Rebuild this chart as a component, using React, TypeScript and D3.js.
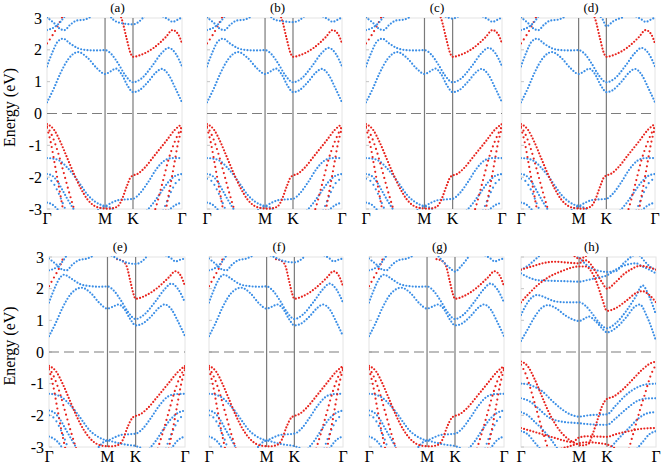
import React from 'react';
import * as d3 from 'd3';

type Pt = [number, number];
type Band = [string, Pt[]];

// high-symmetry points (fractional path coordinate)
const kLabels: [number, string][] = [[0, 'Γ'], [0.43, 'M'], [0.637, 'K'], [1, 'Γ']];
const eTicks = [3, 2, 1, 0, -1, -2, -3];
const panelNames = ['(a)', '(b)', '(c)', '(d)', '(e)', '(f)', '(g)', '(h)'];

// ---------- top row (a-d) shared bands ----------
const topCB1: Pt[] = [[0,0.35],[0.05,0.78],[0.1,1.27],[0.16,1.72],[0.23,1.93],[0.3,1.75],[0.37,1.42],[0.43,1.24],[0.47,1.32],[0.51,1.41],[0.55,1.25],[0.6,0.85],[0.637,0.67],[0.68,0.72],[0.75,1.0],[0.81,1.3],[0.85,1.4],[0.9,1.22],[0.95,0.8],[1,0.35]];
const topCB2: Pt[] = [[0,1.48],[0.04,1.92],[0.08,2.26],[0.12,2.35],[0.17,2.2],[0.23,2.05],[0.3,1.99],[0.37,1.98],[0.43,1.99],[0.48,1.85],[0.53,1.55],[0.58,1.2],[0.637,0.98],[0.7,1.1],[0.78,1.5],[0.85,1.9],[0.9,2.06],[0.95,1.9],[1,1.48]];
const topCBr1: Pt[] = [[0,2.2],[0.04,2.45],[0.08,2.75],[0.115,3.05]];
const topCBr2: Pt[] = [[0.53,3.2],[0.555,2.95],[0.59,2.35],[0.62,1.88],[0.637,1.78],[0.7,1.85],[0.79,2.06],[0.88,2.4],[0.93,2.62],[0.97,2.5],[1,2.2]];
const topCBt1: Pt[] = [[0,3.02],[0.05,2.85],[0.1,2.65],[0.13,2.62],[0.17,2.78],[0.22,2.92],[0.28,2.95],[0.33,3.05]];
const topCBt2: Pt[] = [[0,2.62],[0.05,2.7],[0.1,2.88],[0.13,3.05]];
const topCBt3: Pt[] = [[0.84,3.1],[0.9,2.95],[0.93,2.88],[0.97,2.95],[1,3.02]];
const kTopA: Pt[] = [[0.46,3.1],[0.49,2.95],[0.54,2.85],[0.637,2.8],[0.68,2.88],[0.71,3.0],[0.73,3.1]];
const kTopB: Pt[] = [[0.46,3.1],[0.5,2.95],[0.56,2.9],[0.637,2.87],[0.68,2.92],[0.72,3.05]];
const kTopC: Pt[] = [[0.5,3.2],[0.58,3.05],[0.637,2.98],[0.68,3.05],[0.74,3.2]];
const kTopD: Pt[] = [[0.58,3.1],[0.61,2.95],[0.637,2.74],[0.69,2.9],[0.76,3.02]];

const topVr1: Pt[] = [[0,-0.33],[0.05,-0.5],[0.1,-0.9],[0.15,-1.4],[0.2,-1.9],[0.25,-2.35],[0.3,-2.7],[0.35,-2.9],[0.4,-2.97],[0.46,-2.99],[0.52,-2.93],[0.55,-2.75],[0.59,-2.3],[0.62,-2.0],[0.637,-1.95],[0.67,-1.9],[0.72,-1.72],[0.8,-1.3],[0.88,-0.88],[0.95,-0.5],[1,-0.33]];
const topVr2: Pt[] = [[0,-0.4],[0.04,-0.72],[0.08,-1.2],[0.12,-1.8],[0.16,-2.42],[0.2,-3.0],[0.22,-3.3]];
const topVr3: Pt[] = [[0.78,-3.3],[0.82,-2.75],[0.86,-2.1],[0.9,-1.45],[0.95,-0.85],[1,-0.4]];
const topVr4: Pt[] = [[0,-0.45],[0.03,-0.95],[0.06,-1.65],[0.09,-2.35],[0.12,-3.05]];
const topVr5: Pt[] = [[0.88,-3.05],[0.91,-2.35],[0.94,-1.65],[0.97,-0.95],[1,-0.45]];
const topVb1: Pt[] = [[0,-1.4],[0.05,-1.42],[0.1,-1.5],[0.15,-1.7],[0.2,-1.95],[0.25,-2.25],[0.3,-2.55],[0.35,-2.75],[0.4,-2.87],[0.43,-2.9],[0.48,-2.8],[0.53,-2.72],[0.58,-2.7],[0.637,-2.68],[0.69,-2.5],[0.75,-2.15],[0.81,-1.75],[0.87,-1.48],[0.93,-1.4],[1,-1.4]];
const topVb2: Pt[] = [[0,-1.9],[0.04,-1.96],[0.08,-2.15],[0.12,-2.45],[0.16,-2.75],[0.2,-3.02]];
const topVb3: Pt[] = [[0.74,-3.05],[0.79,-2.8],[0.84,-2.5],[0.9,-2.15],[0.95,-1.96],[1,-1.9]];
const topVb4: Pt[] = [[0,-2.8],[0.04,-2.86],[0.08,-3.02]];
const topVb5: Pt[] = [[0.9,-3.05],[0.95,-2.88],[1,-2.8]];
const topVb6: Pt[] = [[0.36,-3.1],[0.43,-2.92],[0.5,-3.02]];
const topVb7: Pt[] = [[0,-2.05],[0.04,-2.15],[0.08,-2.45],[0.12,-2.85],[0.14,-3.05]];
const topVb8: Pt[] = [[0.86,-3.05],[0.88,-2.85],[0.92,-2.45],[0.96,-2.15],[1,-2.05]];

// ---------- bottom row (e-g) shared bands ----------
const botCB1: Pt[] = [[0,0.5],[0.05,0.92],[0.1,1.4],[0.16,1.83],[0.24,2.03],[0.31,1.85],[0.37,1.55],[0.43,1.37],[0.47,1.43],[0.51,1.5],[0.55,1.38],[0.6,1.02],[0.637,0.84],[0.68,0.88],[0.75,1.12],[0.81,1.4],[0.85,1.5],[0.9,1.35],[0.95,0.95],[1,0.5]];
const botCB2: Pt[] = [[0,1.56],[0.04,2.0],[0.08,2.34],[0.11,2.44],[0.17,2.3],[0.23,2.14],[0.3,2.08],[0.37,2.06],[0.43,2.07],[0.48,1.92],[0.53,1.62],[0.58,1.27],[0.637,1.04],[0.7,1.18],[0.78,1.58],[0.85,1.98],[0.9,2.16],[0.95,1.98],[1,1.56]];
const botCBr1: Pt[] = [[0,2.08],[0.04,2.38],[0.08,2.7],[0.11,3.05]];
const botCBr2: Pt[] = [[0.5,2.93],[0.54,2.88],[0.57,2.72],[0.6,2.2],[0.62,1.85],[0.637,1.68],[0.7,1.76],[0.79,2.0],[0.88,2.35],[0.93,2.55],[0.97,2.4],[1,2.08]];
const botCBt1: Pt[] = [[0,2.95],[0.05,2.78],[0.1,2.6],[0.13,2.58],[0.17,2.75],[0.22,2.9],[0.28,2.95],[0.33,3.05]];
const botCBt2: Pt[] = [[0,2.58],[0.05,2.66],[0.1,2.86],[0.13,3.05]];
const botCBt3: Pt[] = [[0.84,3.1],[0.9,2.95],[0.93,2.86],[0.97,2.92],[1,2.95]];
const kTopE: Pt[] = [[0.46,3.05],[0.5,2.95],[0.55,2.85],[0.637,2.78],[0.68,2.85],[0.72,3.02]];
const kTopF: Pt[] = [[0.46,3.05],[0.5,2.97],[0.55,2.88],[0.637,2.83],[0.68,2.9],[0.72,3.04]];
const kTopG: Pt[] = [[0.5,3.1],[0.55,2.85],[0.6,2.65],[0.637,2.54],[0.68,2.7],[0.74,3.02]];

const botVr1: Pt[] = [[0,-0.44],[0.05,-0.6],[0.1,-1.0],[0.15,-1.5],[0.2,-2.0],[0.25,-2.42],[0.3,-2.72],[0.35,-2.9],[0.39,-2.96],[0.45,-2.98],[0.5,-2.95],[0.54,-2.8],[0.58,-2.35],[0.615,-2.07],[0.637,-2.02],[0.67,-1.97],[0.72,-1.8],[0.8,-1.4],[0.88,-0.98],[0.95,-0.62],[1,-0.44]];
const botVr2: Pt[] = [[0,-0.5],[0.04,-0.82],[0.08,-1.3],[0.12,-1.9],[0.16,-2.5],[0.2,-3.05]];
const botVr3: Pt[] = [[0.8,-3.05],[0.84,-2.5],[0.88,-1.9],[0.92,-1.3],[0.96,-0.82],[1,-0.5]];
const botVr4: Pt[] = [[0,-0.55],[0.03,-1.05],[0.06,-1.75],[0.09,-2.45],[0.12,-3.05]];
const botVr5: Pt[] = [[0.88,-3.05],[0.91,-2.45],[0.94,-1.75],[0.97,-1.05],[1,-0.55]];
const botVb1: Pt[] = [[0,-1.32],[0.05,-1.35],[0.1,-1.45],[0.15,-1.65],[0.2,-1.9],[0.25,-2.2],[0.3,-2.48],[0.35,-2.65],[0.4,-2.76],[0.43,-2.79],[0.48,-2.7],[0.53,-2.62],[0.58,-2.6],[0.637,-2.58],[0.69,-2.42],[0.75,-2.08],[0.81,-1.7],[0.87,-1.42],[0.93,-1.33],[1,-1.32]];
const botVb2: Pt[] = [[0,-1.85],[0.04,-1.92],[0.08,-2.12],[0.12,-2.42],[0.16,-2.72],[0.2,-3.02]];
const botVb3: Pt[] = [[0.74,-3.05],[0.79,-2.78],[0.84,-2.45],[0.9,-2.1],[0.95,-1.92],[1,-1.85]];
const botVb4: Pt[] = [[0,-2.67],[0.04,-2.75],[0.08,-2.92],[0.1,-3.05]];
const botVb5: Pt[] = [[0.9,-3.05],[0.95,-2.78],[1,-2.67]];
const botVb6: Pt[] = [[0.35,-3.08],[0.43,-2.8],[0.5,-2.87],[0.57,-2.93],[0.637,-2.97],[0.7,-3.08]];
const botVb7: Pt[] = [[0,-2.0],[0.04,-2.1],[0.08,-2.4],[0.12,-2.8],[0.14,-3.05]];
const botVb8: Pt[] = [[0.86,-3.05],[0.88,-2.8],[0.92,-2.4],[0.96,-2.1],[1,-2.0]];

// ---------- panel (h) ----------
const hCB1: Pt[] = [[0,0.35],[0.05,0.72],[0.1,1.1],[0.15,1.38],[0.2,1.48],[0.26,1.38],[0.33,1.15],[0.43,0.98],[0.47,1.05],[0.5,1.12],[0.55,0.98],[0.6,0.75],[0.637,0.62],[0.7,0.75],[0.78,1.1],[0.84,1.42],[0.88,1.5],[0.93,1.15],[1,0.35]];
const hCB2: Pt[] = [[0,1.17],[0.04,1.5],[0.08,1.72],[0.12,1.8],[0.18,1.72],[0.25,1.6],[0.33,1.57],[0.43,1.57],[0.48,1.45],[0.53,1.2],[0.58,0.92],[0.637,0.75],[0.7,0.9],[0.78,1.3],[0.85,1.75],[0.9,2.1],[0.95,1.75],[1,1.17]];
const hCB3: Pt[] = [[0,2.48],[0.06,2.35],[0.12,2.27],[0.2,2.25],[0.3,2.24],[0.43,2.22],[0.5,2.28],[0.57,2.35],[0.637,2.42],[0.7,2.6],[0.78,2.75],[0.85,2.8],[0.9,2.7],[0.95,2.6],[1,2.48]];
const hCB4: Pt[] = [[0,2.6],[0.05,2.72],[0.1,2.9],[0.14,3.05]];
const hCB5: Pt[] = [[0.42,3.05],[0.46,2.85],[0.52,2.65],[0.58,2.56],[0.637,2.53],[0.7,2.55],[0.76,2.8],[0.8,2.95],[0.83,3.05]];
const hCB6: Pt[] = [[0.88,3.05],[0.93,2.8],[0.97,2.65],[1,2.6]];
const hCBr1: Pt[] = [[0,1.57],[0.06,1.85],[0.12,2.1],[0.2,2.35],[0.3,2.55],[0.43,2.7],[0.48,2.7],[0.52,2.55],[0.56,2.2],[0.6,1.7],[0.637,1.3],[0.7,1.38],[0.78,1.62],[0.86,1.88],[0.9,1.92],[0.95,1.8],[1,1.57]];
const hCBr2: Pt[] = [[0,2.6],[0.08,2.7],[0.16,2.8],[0.25,2.85],[0.35,2.82],[0.43,2.8],[0.47,2.9],[0.5,2.85],[0.55,2.55],[0.6,2.2],[0.637,2.0],[0.7,2.2],[0.76,2.45],[0.82,2.62],[0.88,2.72],[0.94,2.68],[1,2.6]];
const hCBr3: Pt[] = [[0.38,3.1],[0.43,2.95],[0.47,3.0],[0.5,3.1]];
const hVr1: Pt[] = [[0,-0.3],[0.05,-0.45],[0.1,-0.85],[0.15,-1.35],[0.2,-1.85],[0.25,-2.25],[0.3,-2.55],[0.35,-2.75],[0.4,-2.88],[0.45,-2.95],[0.5,-2.9],[0.53,-2.6],[0.57,-2.1],[0.6,-1.72],[0.637,-1.48],[0.68,-1.42],[0.75,-1.2],[0.82,-0.9],[0.9,-0.55],[0.95,-0.38],[1,-0.3]];
const hVr2: Pt[] = [[0,-0.4],[0.04,-0.75],[0.08,-1.3],[0.12,-1.9],[0.16,-2.5],[0.2,-3.05]];
const hVr3: Pt[] = [[0.8,-3.05],[0.84,-2.45],[0.88,-1.85],[0.92,-1.3],[0.96,-0.75],[1,-0.4]];
const hVr4: Pt[] = [[0,-2.4],[0.08,-2.5],[0.16,-2.6],[0.24,-2.7],[0.32,-2.8],[0.38,-2.85],[0.43,-2.7],[0.5,-2.66],[0.637,-2.68],[0.7,-2.6],[0.8,-2.5],[0.9,-2.42],[1,-2.4]];
const hVr5: Pt[] = [[0.3,-3.05],[0.38,-2.95],[0.43,-2.88],[0.5,-2.85],[0.58,-2.88],[0.637,-2.92],[0.7,-3.05]];
const hVb1: Pt[] = [[0,-1.0],[0.05,-1.02],[0.1,-1.1],[0.16,-1.25],[0.22,-1.5],[0.3,-1.8],[0.37,-1.98],[0.43,-2.04],[0.5,-2.0],[0.57,-1.98],[0.637,-1.97],[0.7,-1.7],[0.78,-1.35],[0.86,-1.12],[0.93,-1.02],[1,-1.0]];
const hVb2: Pt[] = [[0,-1.46],[0.06,-1.55],[0.12,-1.75],[0.2,-2.05],[0.3,-2.2],[0.43,-2.25],[0.5,-2.28],[0.637,-2.3],[0.7,-2.1],[0.78,-1.8],[0.86,-1.55],[0.93,-1.47],[1,-1.46]];
const hVb3: Pt[] = [[0,-1.9],[0.05,-2.0],[0.1,-2.2],[0.16,-2.45],[0.22,-2.75],[0.27,-3.05]];
const hVb4: Pt[] = [[0.66,-3.05],[0.72,-2.75],[0.8,-2.4],[0.87,-2.1],[0.94,-1.93],[1,-1.9]];
const hVb5: Pt[] = [[0,-2.5],[0.05,-2.6],[0.1,-2.85],[0.14,-3.05]];
const hVb6: Pt[] = [[0.86,-3.05],[0.9,-2.85],[0.95,-2.6],[1,-2.5]];

// band colour: 'b' blue, 'r' red; 's' suffix = steep band (sparser dots)
const topBase: Band[] = [
  ['b', topCB1], ['b', topCB2], ['rs', topCBr1], ['r', topCBr2], ['b', topCBt1], ['b', topCBt2], ['b', topCBt3],
  ['b', topVb1], ['b', topVb2], ['b', topVb3], ['b', topVb4], ['b', topVb5], ['b', topVb6], ['bs', topVb7], ['bs', topVb8],
  ['r', topVr1], ['rs', topVr2], ['rs', topVr3], ['rs', topVr4], ['rs', topVr5],
];
const botBase: Band[] = [
  ['b', botCB1], ['b', botCB2], ['rs', botCBr1], ['r', botCBr2], ['b', botCBt1], ['b', botCBt2], ['b', botCBt3],
  ['b', botVb1], ['b', botVb2], ['b', botVb3], ['b', botVb4], ['b', botVb5], ['b', botVb6], ['bs', botVb7], ['bs', botVb8],
  ['r', botVr1], ['rs', botVr2], ['rs', botVr3], ['rs', botVr4], ['rs', botVr5],
];
const hBands: Band[] = [
  ['b', hCB1], ['b', hCB2], ['b', hCB3], ['b', hCB4], ['b', hCB5], ['b', hCB6],
  ['r', hCBr1], ['r', hCBr2], ['r', hCBr3],
  ['b', hVb1], ['b', hVb2], ['b', hVb3], ['b', hVb4], ['b', hVb5], ['b', hVb6],
  ['r', hVr1], ['rs', hVr2], ['rs', hVr3], ['r', hVr4], ['r', hVr5],
];
const panelBands: Band[][] = [
  [...topBase, ['b', kTopA]],
  [...topBase, ['b', kTopB]],
  [...topBase, ['b', kTopC]],
  [...topBase, ['b', kTopD]],
  [...botBase, ['b', kTopE]],
  [...botBase, ['b', kTopF]],
  [...botBase, ['b', kTopG]],
  hBands,
];

// layout (pixels)
const layout = [
  { x0: 47, x1: 182, y0: 18, y1: 209 },
  { x0: 207, x1: 342, y0: 18, y1: 209 },
  { x0: 366, x1: 502, y0: 18, y1: 209 },
  { x0: 521, x1: 655, y0: 18, y1: 209 },
  { x0: 49, x1: 185, y0: 257, y1: 447 },
  { x0: 209, x1: 343, y0: 257, y1: 447 },
  { x0: 369, x1: 504, y0: 257, y1: 447 },
  { x0: 521, x1: 656, y0: 257, y1: 447 },
];

const BLUE = '#3a8ee6';
const RED = '#e8231d';
const FONT = 'Liberation Serif';

function Panel({ idx }: { idx: number }) {
  const L = layout[idx];
  const xs = d3.scaleLinear().domain([0, 1]).range([L.x0, L.x1]);
  const ys = d3.scaleLinear().domain([-3, 3]).range([L.y1, L.y0]);
  const line = d3.line<Pt>().x(d => xs(d[0])).y(d => ys(d[1])).curve(d3.curveMonotoneX);
  const clipId = `clip${idx}`;
  const topRow = idx < 4;
  const labelY = topRow ? 224 : 462;
  const titleY = topRow ? 12 : 251;
  return (
    <g>
      <defs>
        <clipPath id={clipId}>
          <rect x={L.x0} y={L.y0 - 1} width={L.x1 - L.x0} height={L.y1 - L.y0 + 2} />
        </clipPath>
      </defs>
      <rect x={L.x0} y={L.y0} width={L.x1 - L.x0} height={L.y1 - L.y0} fill="none" stroke="#e4e4e4" strokeWidth={1} />
      {eTicks.map(t => (
        <line key={t} x1={L.x0} x2={L.x0 + 3} y1={ys(t)} y2={ys(t)} stroke="#c4c4c4" strokeWidth={1} />
      ))}
      <line x1={L.x0} x2={L.x1} y1={ys(0)} y2={ys(0)} stroke="#7d7d7d" strokeWidth={1.2} strokeDasharray="10 5" />
      {kLabels.slice(1, 3).map(([k]) => (
        <line key={k} x1={xs(k)} x2={xs(k)} y1={L.y0} y2={L.y1} stroke="#7a7a7a" strokeWidth={1.2} />
      ))}
      <g clipPath={`url(#${clipId})`}>
        {panelBands[idx].map(([c, pts], i) => (
          <path key={i} d={line(pts) || ''} fill="none" stroke={c[0] === 'r' ? RED : BLUE}
            strokeWidth={2.2} strokeLinecap="round" strokeDasharray={c.length > 1 ? '0 5' : '0 3.2'} />
        ))}
      </g>
      {kLabels.map(([k, l], i) => (
        <text key={i} x={xs(k)} y={labelY} textAnchor="middle" fontFamily={FONT} fontSize={16} fill="#000">{l}</text>
      ))}
      <text x={(L.x0 + L.x1) / 2 + 3} y={titleY} textAnchor="middle" fontFamily={FONT} fontSize={13} fill="#000">{panelNames[idx]}</text>
      {(idx === 0 || idx === 4) && (
        <g>
          {eTicks.map(t => (
            <text key={t} x={L.x0 - 5} y={ys(t)} dy="0.35em" textAnchor="end" fontFamily={FONT} fontSize={16} fill="#000">{t}</text>
          ))}
          <text transform={`translate(15, ${(L.y0 + L.y1) / 2 - 6}) rotate(-90)`} textAnchor="middle" fontFamily={FONT} fontSize={16} fill="#000">Energy (eV)</text>
        </g>
      )}
    </g>
  );
}

export default function App() {
  return (
    <svg width={661} height={467} style={{ position: 'absolute', left: 0, top: 0, background: '#fff' }}>
      <rect width={661} height={467} fill="#fff" />
      {layout.map((_, i) => <Panel key={i} idx={i} />)}
    </svg>
  );
}
